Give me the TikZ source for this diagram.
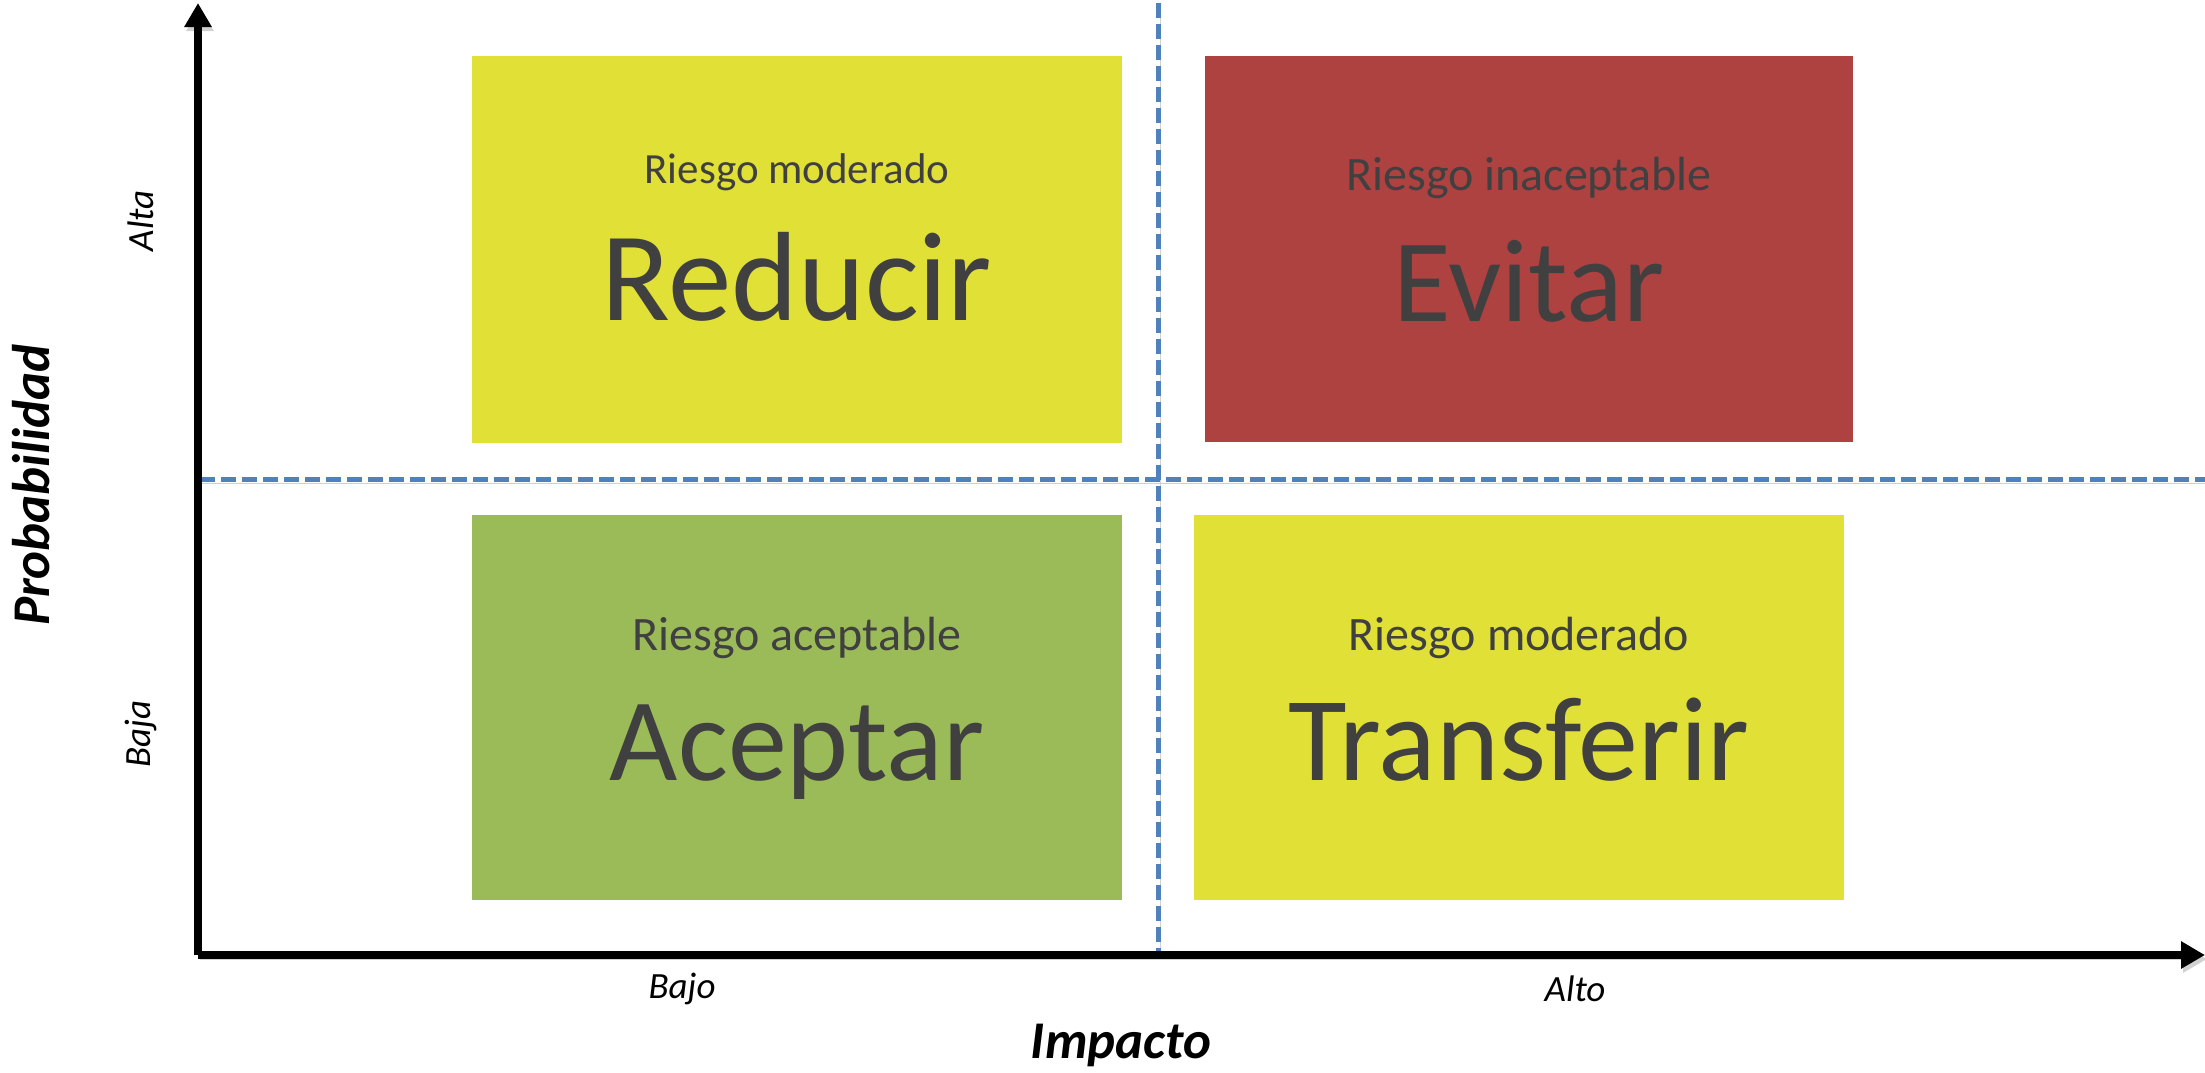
\documentclass[tikz,border=0pt]{standalone}
\usepackage{fontspec}
\setmainfont{Carlito}
\usetikzlibrary{arrows.meta}
\definecolor{ylw}{HTML}{E1E036}
\definecolor{rd}{HTML}{AE4240}
\definecolor{grn}{HTML}{9BBB59}
\definecolor{blu}{HTML}{4F81BD}
\definecolor{txt}{HTML}{404040}
\tikzset{
  sub/.style={text=txt, anchor=base, font=\fontsize{48}{56}\selectfont},
  big/.style={text=txt, anchor=base, font=\fontsize{118}{140}\selectfont},
  shadowed/.style={preaction={draw=black!18, transform canvas={shift={(2pt,-4pt)}}}},
  axis/.style={line width=8pt, -{Triangle[length=24pt,width=26pt]}, shadowed},
  divider/.style={blu, line width=5pt, dash pattern=on 15pt off 6pt, shadowed},
  tick/.style={font=\fontsize{37}{44}\selectfont\itshape, text=black},
  title/.style={font=\fontsize{53}{62}\selectfont\bfseries\itshape, text=black}
}
\begin{document}
\begin{tikzpicture}[x=1pt,y=-1pt]
\useasboundingbox (0,0) rectangle (2205,1072);
% boxes
\fill[ylw] (472,56) rectangle (1122,443);
\fill[rd] (1205,56) rectangle (1853,442);
\fill[grn] (472,515) rectangle (1122,900);
\fill[ylw] (1194,515) rectangle (1844,900);
% texts
\node[sub, font=\fontsize{43}{50}\selectfont] (s1) at (797,183) {Riesgo moderado};
\node[big, font=\fontsize{127}{150}\selectfont] (b1) at (797,320) {Reducir};
\node[sub] (s2) at (1529,190) {Riesgo inaceptable};
\node[big] (b2) at (1529,321) {Evitar};
\node[sub] (s3) at (797,650) {Riesgo aceptable};
\node[big] (b3) at (797,780) {Aceptar};
\node[sub] (s4) at (1519,650) {Riesgo moderado};
\node[big, font=\fontsize{120}{140}\selectfont] (b4) at (1519,780) {Transferir};
% dividers
\coordinate (vt) at (1158,3);
\coordinate (vb) at (1158,955);
\coordinate (hl) at (200,479);
\coordinate (hr) at (2205,479);
\draw[divider] (vt) -- (vb);
\draw[divider] (hl) -- (hr);
% axes
\coordinate (o) at (198,955);
\coordinate (ytop) at (198,3);
\coordinate (xend) at (2205,955);
\draw[axis] (o) -- (ytop);
\draw[axis] (o) -- (xend);
% labels
\node[tick, rotate=90] (alta) at (141,221) {Alta};
\node[tick, rotate=90] (baja) at (141,734) {Baja};
\node[tick] (bajo) at (682,989) {Bajo};
\node[tick] (alto) at (1575,989) {Alto};
\node[title, rotate=90] (prob) at (31,485) {Probabilidad};
\node[title] (imp) at (1121,1045) {Impacto};
\end{tikzpicture}
\end{document}
